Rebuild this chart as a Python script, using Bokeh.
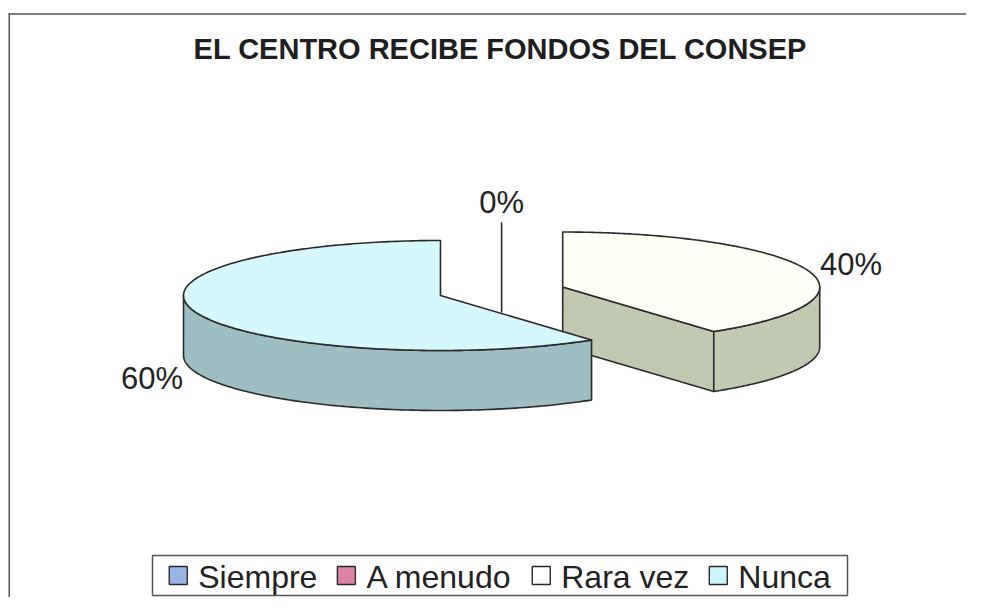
import numpy as np
from bokeh.plotting import figure
from bokeh.models import Range1d
from bokeh.core.properties import value
from bokeh.embed import file_html
from bokeh.resources import INLINE

# ---------------- data ----------------
title_text = "EL CENTRO RECIBE FONDOS DEL CONSEP"
categories = ["Siempre", "A menudo", "Rara vez", "Nunca"]
percentages = [0, 0, 40, 60]
label_texts = ["0%", "0%", "40%", "60%"]

# ---------------- style ----------------
top_colors = ["#9BB4E6", "#D983A6", "#FFFFF7", "#D6F7FB"]
side_colors = ["#7F95C0", "#B46A88", "#C2C9B1", "#9FBEC2"]
legend_colors = ["#9BB4E6", "#D983A6", "#FFFFFF", "#CCF6FB"]
explode = [0.0, 0.0, 0.5, 0.0]

W, H = 966, 597
CX, CY, RX, RY, DEPTH = 440, 295, 257, 55, 60
EDGE = "#2A2A2A"
FONT = "Liberation Sans"
LABEL_SIZE = 31
LABEL_DX, LABEL_DY = 44, 6

# Arial / Liberation Sans advance widths (1/1000 em)
CHAR_W = {"S": 667, "i": 222, "e": 556, "m": 833, "p": 556, "r": 333, "A": 667,
          " ": 278, "n": 556, "u": 556, "d": 556, "o": 556, "R": 722, "a": 556,
          "v": 500, "z": 500, "N": 722, "c": 500}


def text_w(s, size):
    return sum(CHAR_W.get(c, 556) for c in s) / 1000.0 * size


p = figure(width=W, height=H, x_range=Range1d(0, W), y_range=Range1d(H, 0),
           output_backend="svg", toolbar_location=None, min_border=0,
           x_axis_type=None, y_axis_type=None)
p.grid.visible = False
p.outline_line_color = None
p.background_fill_color = "white"
p.border_fill_color = "white"

# frame of the chart area (top and left edges visible in the reference)
p.segment(x0=[8, 8.75], y0=[13.5, 13], x1=[W, 8.75], y1=[13.5, H],
          line_color="#555555", line_width=1.5)

# title
p.text(x=[500], y=[48.5], text=[title_text], text_font=value(FONT),
       text_font_size="29px", text_font_style="bold", text_align="center",
       text_baseline="middle", text_color="#1E1E1E")

# ---------------- pie geometry ----------------
total = float(sum(percentages))
cum = np.concatenate([[0.0], np.cumsum(percentages)]) / total * 2 * np.pi


def pt(cx, cy, t, dz=0.0):
    t = np.asarray(t, dtype=float)
    return cx + RX * np.sin(t), cy - RY * np.cos(t) + dz


slices = []
for i, v in enumerate(percentages):
    a, b = cum[i], cum[i + 1]
    mid = 0.5 * (a + b)
    e = explode[i]
    cx = CX + e * RX * np.sin(mid)
    cy = CY - e * RY * np.cos(mid)
    slices.append(dict(i=i, a=a, b=b, mid=mid, cx=cx, cy=cy, v=v))

nonzero = [s for s in slices if s["v"] > 0]
nonzero.sort(key=lambda s: s["cy"] - RY * np.cos(s["mid"]))

for s in nonzero:
    i, a, b, cx, cy = s["i"], s["a"], s["b"], s["cx"], s["cy"]
    # radial cut faces
    for ang, normal in ((a, a - np.pi / 2), (b, b + np.pi / 2)):
        if np.cos(normal - np.pi) > 1e-6:
            x1, y1 = pt(cx, cy, ang)
            x2, y2 = pt(cx, cy, ang, DEPTH)
            p.patch([cx, float(x1), float(x2), cx], [cy, float(y1), float(y2), cy + DEPTH],
                    fill_color=side_colors[i], line_color=EDGE, line_width=1.6,
                    line_join="round")
    # outer wall (front half only)
    lo, hi = max(a, np.pi / 2), min(b, 3 * np.pi / 2)
    if hi > lo:
        t = np.linspace(lo, hi, 120)
        xt, yt = pt(cx, cy, t)
        xb, yb = pt(cx, cy, t[::-1], DEPTH)
        p.patch(np.concatenate([xt, xb]), np.concatenate([yt, yb]),
                fill_color=side_colors[i], line_color=EDGE, line_width=1.6,
                line_join="round")
    # top face
    t = np.linspace(a, b, 240)
    xt, yt = pt(cx, cy, t)
    p.patch(np.concatenate([[cx], xt]), np.concatenate([[cy], yt]),
            fill_color=top_colors[i], line_color=EDGE, line_width=1.6,
            line_join="round")

# ---------------- data labels ----------------
lx, ly, lt = [], [], []
for s in nonzero:
    rx_, ry_ = pt(s["cx"], s["cy"], s["mid"])
    front = np.cos(s["mid"]) < 0
    sx = 1 if np.sin(s["mid"]) >= 0 else -1
    lx.append(float(rx_) + sx * LABEL_DX)
    ly.append(float(ry_) + (DEPTH + LABEL_DY if front else -LABEL_DY))
    lt.append(label_texts[s["i"]])

zero = [s for s in slices if s["v"] == 0]
if zero:
    zx = float(np.mean([s["cx"] for s in nonzero]))
    p.segment(x0=[zx], y0=[CY - 1.33 * RY], x1=[zx], y1=[CY + 0.31 * RY],
              line_color=EDGE, line_width=1.6)
    lx.append(zx)
    ly.append(CY - 1.7 * RY)
    lt.append(label_texts[zero[0]["i"]])

p.text(x=lx, y=ly, text=lt, text_font=value(FONT), text_font_size=f"{LABEL_SIZE}px",
       text_align="center", text_baseline="middle", text_color="#222222")

# ---------------- legend ----------------
LEG_X0, LEG_X1, LEG_Y0, LEG_Y1 = 152, 847, 555, 595
LEG_FONT = 32
SQ, G1, G2 = 18, 11, 20
widths = [text_w(c, LEG_FONT) for c in categories]
content = len(categories) * (SQ + G1) + sum(widths) + (len(categories) - 1) * G2
x = LEG_X0 + (LEG_X1 - LEG_X0 - content) / 2.0
sq_left, txt_x = [], []
for w_ in widths:
    sq_left.append(x)
    txt_x.append(x + SQ + G1)
    x += SQ + G1 + w_ + G2
ymid = 0.5 * (LEG_Y0 + LEG_Y1)

p.quad(left=[LEG_X0], right=[LEG_X1], top=[LEG_Y0], bottom=[LEG_Y1],
       fill_color="white", line_color="#555555", line_width=1.5)
p.quad(left=sq_left, right=[v + SQ for v in sq_left],
       top=[ymid - SQ / 2] * len(sq_left), bottom=[ymid + SQ / 2] * len(sq_left),
       fill_color=legend_colors, line_color=EDGE, line_width=1.4)
p.text(x=txt_x, y=[ymid + 1] * len(txt_x), text=categories, text_font=value(FONT),
       text_font_size=f"{LEG_FONT}px", text_align="left", text_baseline="middle",
       text_color="#222222")

open("out.html", "w").write(file_html(p, INLINE, title=title_text))
